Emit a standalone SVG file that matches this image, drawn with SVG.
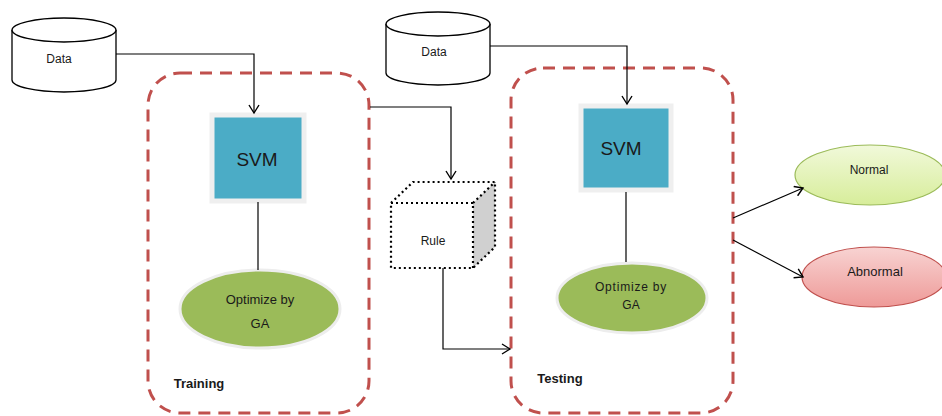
<svg xmlns="http://www.w3.org/2000/svg" width="942" height="416" viewBox="0 0 942 416">
<defs>
<style>
.t{font-family:"Liberation Sans",Arial,sans-serif;fill:#1a1a1a;text-anchor:middle}
.cyl{fill:#fff;stroke:#000;stroke-width:1.3}
.cont{fill:none;stroke:#C0504D;stroke-width:3;stroke-dasharray:12 8}
.svm{fill:#4BACC6;stroke:#EFEFEF;stroke-width:5}
.ga{fill:#9BBB59;stroke:#EDEDED;stroke-width:3}
.ln{fill:none;stroke:#000;stroke-width:1.2}
</style>
<marker id="ar" markerWidth="12" markerHeight="12" refX="10" refY="6" orient="auto" markerUnits="userSpaceOnUse">
<path d="M2,1 L10,6 L2,11" fill="none" stroke="#000" stroke-width="1.4"/>
</marker>
<linearGradient id="gn" x1="0" y1="0" x2="0" y2="1">
<stop offset="0" stop-color="#F1F9DA"/><stop offset="1" stop-color="#D7ED9A"/>
</linearGradient>
<linearGradient id="gr" x1="0" y1="0" x2="0" y2="1">
<stop offset="0" stop-color="#F8D3D2"/><stop offset="1" stop-color="#EE9A98"/>
</linearGradient>
</defs>

<g id="training">
<rect class="cont" x="148" y="73" width="221" height="340" rx="32"/>
<text class="t" x="199" y="388" font-size="13" font-weight="bold">Training</text>
</g>
<g id="testing">
<rect class="cont" x="511" y="68" width="222" height="345" rx="32"/>
<text class="t" x="560" y="383" font-size="13" font-weight="bold">Testing</text>
</g>

<g id="data1">
<path class="cyl" d="M12,30 L12,80 A52,12 0 0 0 116,80 L116,30"/>
<ellipse class="cyl" cx="64" cy="30" rx="52" ry="12"/>
<text class="t" x="59" y="63" font-size="12">Data</text>
</g>
<g id="data2">
<path class="cyl" d="M386,24 L386,73 A52,12 0 0 0 490,73 L490,24"/>
<ellipse class="cyl" cx="438" cy="24" rx="52" ry="12"/>
<text class="t" x="434" y="56" font-size="12">Data</text>
</g>

<g id="svm1">
<rect class="svm" x="212" y="115" width="92" height="86"/>
<text class="t" x="257" y="166" font-size="19">SVM</text>
</g>
<g id="svm2">
<rect class="svm" x="581" y="106" width="90" height="84"/>
<text class="t" x="621" y="155" font-size="19">SVM</text>
</g>

<g id="ga1">
<ellipse class="ga" cx="260" cy="309" rx="80" ry="39"/>
<text class="t" x="260" y="304" font-size="13">Optimize by</text>
<text class="t" x="260" y="328" font-size="13">GA</text>
</g>
<g id="ga2">
<ellipse class="ga" cx="632" cy="298" rx="75" ry="35"/>
<text class="t" x="631" y="291" font-size="12" letter-spacing="0.8">Optimize by</text>
<text class="t" x="631" y="309" font-size="12">GA</text>
</g>

<g id="rule">
<path d="M473,203 L495,182 L495,247 L473,268 Z" fill="#D0D0D0"/>
<path d="M391,203 L413,182 L495,182 L495,247 L473,268 L391,268 Z M391,203 L473,203 L473,268 M473,203 L495,182" fill="none" stroke="#000" stroke-width="2.2" stroke-dasharray="2 3"/>
<text class="t" x="433" y="245" font-size="12">Rule</text>
</g>

<g id="normal">
<ellipse cx="870" cy="175" rx="75" ry="30" fill="url(#gn)" stroke="#9BBB59" stroke-width="1.2"/>
<text class="t" x="869" y="174" font-size="12">Normal</text>
</g>
<g id="abnormal">
<ellipse cx="874" cy="277" rx="72" ry="30" fill="url(#gr)" stroke="#C0504D" stroke-width="1.2"/>
<text class="t" x="875" y="276" font-size="13">Abnormal</text>
</g>

<g id="connectors">
<path class="ln" d="M116,54 L254,54 L254,113" marker-end="url(#ar)"/>
<path class="ln" d="M490,46 L627,46 L627,104" marker-end="url(#ar)"/>
<path class="ln" d="M370,107 L451,107 L451,179" marker-end="url(#ar)"/>
<path class="ln" d="M443,268 L443,349 L510,349" marker-end="url(#ar)"/>
<path class="ln" d="M258,202 L258,270"/>
<path class="ln" d="M626,192 L626,262"/>
<path class="ln" d="M733,218 L803,188" marker-end="url(#ar)"/>
<path class="ln" d="M733,240 L803,277" marker-end="url(#ar)"/>
</g>
</svg>
